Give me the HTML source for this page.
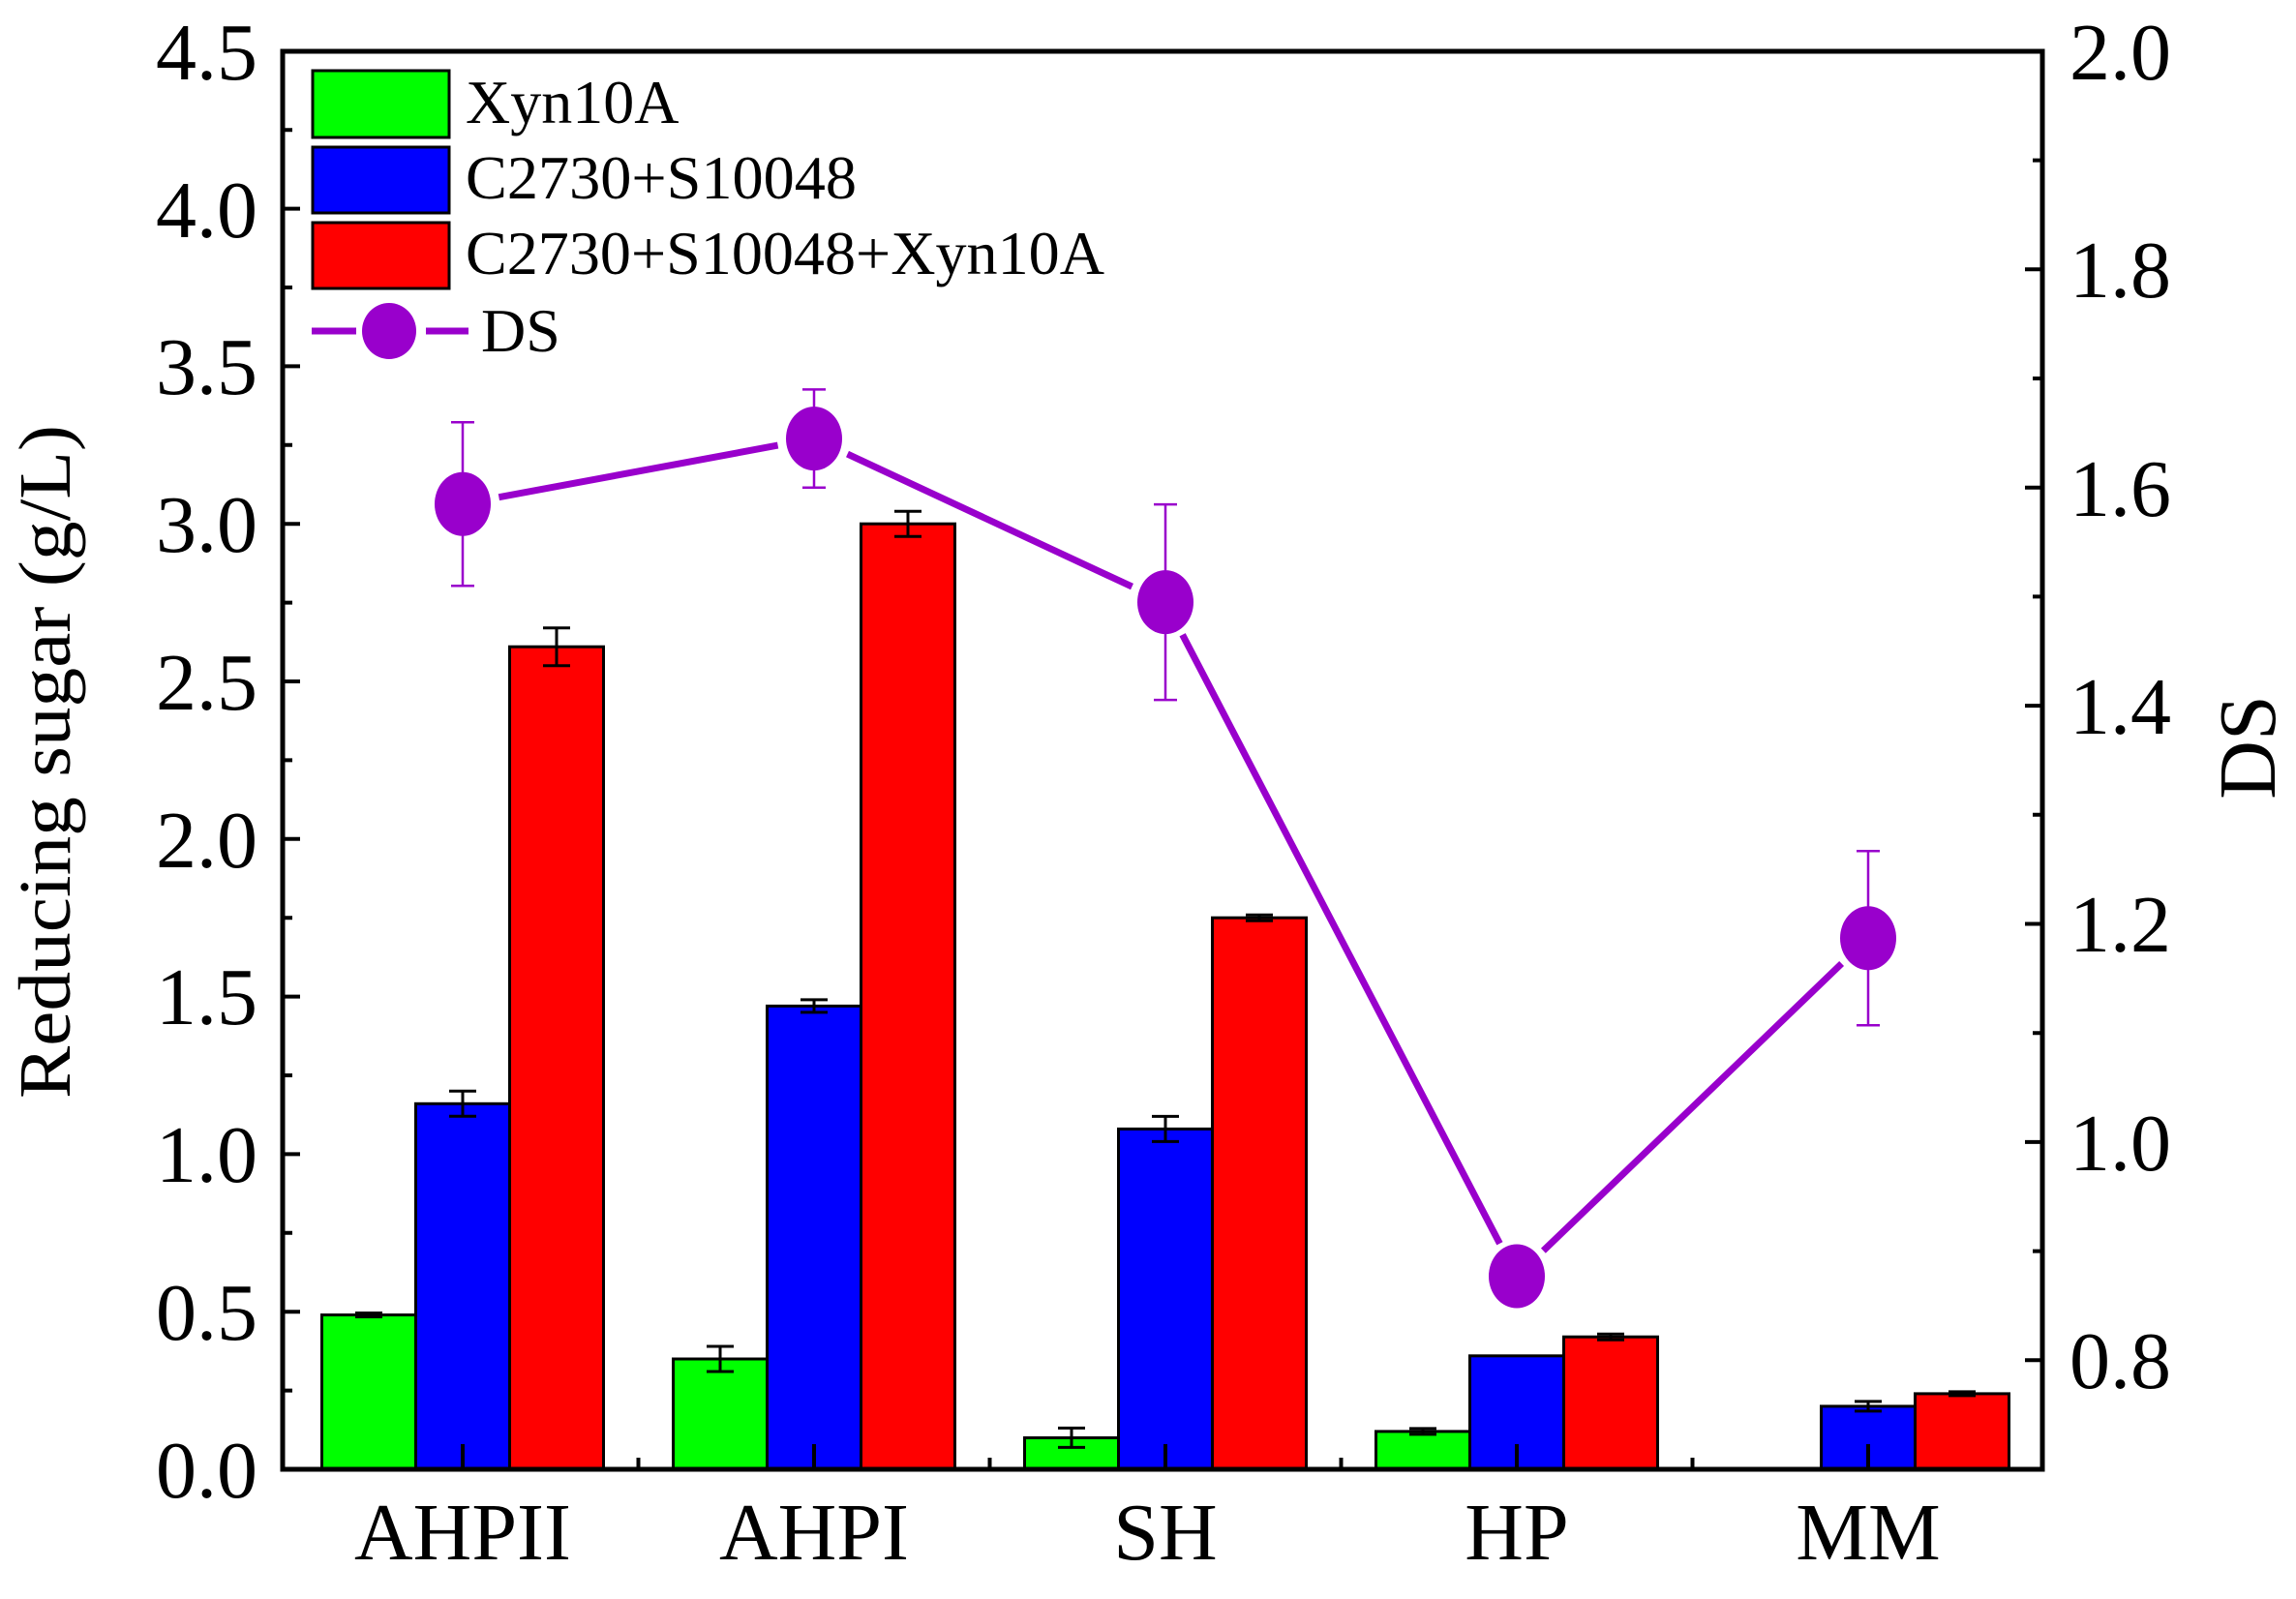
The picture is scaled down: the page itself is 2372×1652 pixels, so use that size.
<!DOCTYPE html>
<html><head><meta charset="utf-8"><style>
html,body{margin:0;padding:0;background:#fff;}
svg text{font-family:"Liberation Serif",serif;fill:#000;}
</style></head><body>
<svg width="2372" height="1647" viewBox="0 0 2372 1647" xmlns="http://www.w3.org/2000/svg">
<rect width="2372" height="1647" fill="#fff"/>
<!-- bars -->
<g stroke="#000" stroke-width="3">
<rect x="332.5" y="1358.5" width="97" height="159.5" fill="#00ff00"/>
<rect x="429.5" y="1140.3" width="97" height="377.7" fill="#0000ff"/>
<rect x="526.5" y="668.2" width="97" height="849.8" fill="#ff0000"/>
<rect x="695.5" y="1404" width="97" height="114" fill="#00ff00"/>
<rect x="792.5" y="1039.4" width="97" height="478.6" fill="#0000ff"/>
<rect x="889.5" y="541.2" width="97" height="976.8" fill="#ff0000"/>
<rect x="1058.5" y="1485.4" width="97" height="32.6" fill="#00ff00"/>
<rect x="1155.5" y="1166.4" width="97" height="351.6" fill="#0000ff"/>
<rect x="1252.5" y="948.2" width="97" height="569.8" fill="#ff0000"/>
<rect x="1421.5" y="1478.9" width="97" height="39.1" fill="#00ff00"/>
<rect x="1518.5" y="1400.8" width="97" height="117.2" fill="#0000ff"/>
<rect x="1615.5" y="1381.2" width="97" height="136.8" fill="#ff0000"/>
<rect x="1881.5" y="1452.9" width="97" height="65.1" fill="#0000ff"/>
<rect x="1978.5" y="1439.9" width="97" height="78.1" fill="#ff0000"/>
</g>
<!-- bar error bars -->
<g stroke="#000" stroke-width="3" fill="none">
<path d="M381,1356.5V1360.5M367,1356.5H395M367,1360.5H395"/>
<path d="M478,1127.3V1153.3M464,1127.3H492M464,1153.3H492"/>
<path d="M575,648.7V687.7M561,648.7H589M561,687.7H589"/>
<path d="M744,1391V1417M730,1391H758M730,1417H758"/>
<path d="M841,1032.9V1045.9M827,1032.9H855M827,1045.9H855"/>
<path d="M938,528.2V554.2M924,528.2H952M924,554.2H952"/>
<path d="M1107,1475.4V1495.4M1093,1475.4H1121M1093,1495.4H1121"/>
<path d="M1204,1153.4V1179.4M1190,1153.4H1218M1190,1179.4H1218"/>
<path d="M1301,945.2V951.2M1287,945.2H1315M1287,951.2H1315"/>
<path d="M1470,1475.9V1481.9M1456,1475.9H1484M1456,1481.9H1484"/>
<path d="M1664,1378.2V1384.2M1650,1378.2H1678M1650,1384.2H1678"/>
<path d="M1930,1447.9V1457.9M1916,1447.9H1944M1916,1457.9H1944"/>
<path d="M2027,1437.9V1441.9M2013,1437.9H2041M2013,1441.9H2041"/>
</g>
<!-- DS line -->
<g stroke="#9900cc" stroke-width="7" stroke-linecap="butt" fill="none">
<line x1="515.4" y1="513.7" x2="803.6" y2="460.1"/>
<line x1="875.5" y1="469.1" x2="1169.5" y2="606.1"/>
<line x1="1221.6" y1="655.8" x2="1549.4" y2="1284.8"/>
<line x1="1594.4" y1="1292.2" x2="1902.6" y2="995.5"/>
</g>
<g stroke="#9900cc" stroke-width="2.5" fill="none">
<path d="M478,436.2V605.2M466,436.2H490M466,605.2H490"/>
<path d="M841,402.4V503.8M829,402.4H853M829,503.8H853"/>
<path d="M1204,521.1V723.1M1192,521.1H1216M1192,723.1H1216"/>
<path d="M1930,879.2V1059.2M1918,879.2H1942M1918,1059.2H1942"/>
</g>
<g fill="#9900cc">
<ellipse cx="478" cy="520.7" rx="29" ry="33"/>
<ellipse cx="841" cy="453.1" rx="29" ry="33"/>
<ellipse cx="1204" cy="622.1" rx="29" ry="33"/>
<ellipse cx="1567" cy="1318.5" rx="29" ry="33"/>
<ellipse cx="1930" cy="969.2" rx="29" ry="33"/>
</g>
<!-- frame -->
<rect x="292" y="53" width="1818" height="1465" fill="none" stroke="#000" stroke-width="5"/>
<!-- left ticks -->
<g stroke="#000" stroke-width="4">
<path d="M292,1518H310M292,1355.2H310M292,1192.4H310M292,1029.6H310M292,866.8H310M292,704H310M292,541.2H310M292,378.4H310M292,215.6H310M292,52.8H310"/>
<path d="M292,1436.6H302M292,1273.8H302M292,1111H302M292,948.2H302M292,785.4H302M292,622.6H302M292,459.8H302M292,297H302M292,134.2H302"/>
<path d="M2110,1405.3H2092M2110,1179.9H2092M2110,954.5H2092M2110,729.1H2092M2110,503.7H2092M2110,278.3H2092M2110,53H2092"/>
<path d="M2110,1292.6H2100M2110,1067.2H2100M2110,841.8H2100M2110,616.4H2100M2110,391H2100M2110,165.6H2100"/>
<path d="M478,1518V1492M841,1518V1492M1204,1518V1492M1567,1518V1492M1930,1518V1492"/>
<path d="M659.5,1518V1506M1022.5,1518V1506M1385.5,1518V1506M1748.5,1518V1506"/>
</g>
<!-- left labels -->
<g font-size="84" text-anchor="end">
<text x="266" y="1547">0.0</text>
<text x="266" y="1384">0.5</text>
<text x="266" y="1221">1.0</text>
<text x="266" y="1058">1.5</text>
<text x="266" y="896">2.0</text>
<text x="266" y="733">2.5</text>
<text x="266" y="570">3.0</text>
<text x="266" y="407">3.5</text>
<text x="266" y="245">4.0</text>
<text x="266" y="82">4.5</text>
</g>
<g font-size="84" text-anchor="start">
<text x="2138" y="1434">0.8</text>
<text x="2138" y="1209">1.0</text>
<text x="2138" y="983">1.2</text>
<text x="2138" y="758">1.4</text>
<text x="2138" y="533">1.6</text>
<text x="2138" y="307">1.8</text>
<text x="2138" y="82">2.0</text>
</g>
<g font-size="84" text-anchor="middle">
<text x="478" y="1611">AHPII</text>
<text x="841" y="1611">AHPI</text>
<text x="1204" y="1611">SH</text>
<text x="1567" y="1611">HP</text>
<text x="1930" y="1611">MM</text>
</g>
<text transform="translate(72,787) rotate(-90)" font-size="76" text-anchor="middle" textLength="696" lengthAdjust="spacingAndGlyphs">Reducing sugar (g/L)</text>
<text transform="translate(2350,772) rotate(-90)" font-size="84" text-anchor="middle">DS</text>
<!-- legend -->
<g stroke="#000" stroke-width="3">
<rect x="323" y="73" width="141" height="69" fill="#00ff00"/>
<rect x="323" y="152" width="141" height="68" fill="#0000ff"/>
<rect x="323" y="230" width="141" height="68" fill="#ff0000"/>
</g>
<line x1="322" y1="342" x2="368" y2="342" stroke="#9900cc" stroke-width="7"/>
<line x1="440" y1="342" x2="484" y2="342" stroke="#9900cc" stroke-width="7"/>
<ellipse cx="402" cy="342" rx="28" ry="29" fill="#9900cc"/>
<g font-size="64">
<text x="481" y="127">Xyn10A</text>
<text x="481" y="205" textLength="404" lengthAdjust="spacingAndGlyphs">C2730+S10048</text>
<text x="481" y="283" textLength="660" lengthAdjust="spacingAndGlyphs">C2730+S10048+Xyn10A</text>
<text x="497" y="363">DS</text>
</g>
</svg>
</body></html>
